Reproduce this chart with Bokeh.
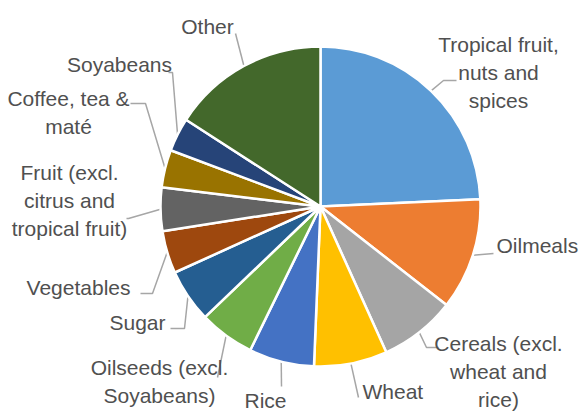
import math
from bokeh.plotting import figure
from bokeh.models import Range1d, ColumnDataSource
from bokeh.core.properties import value
from bokeh.embed import file_html
from bokeh.resources import INLINE

# ---- data (share of total, %) ----
categories = ["Tropical fruit,\nnuts and\nspices", "Oilmeals", "Cereals (excl.\nwheat and\nrice)", "Wheat",
              "Rice", "Oilseeds (excl.\nSoyabeans)", "Sugar", "Vegetables",
              "Fruit (excl.\ncitrus and\ntropical fruit)", "Coffee, tea &\nmaté", "Soyabeans", "Other"]
shares = [24.3, 11.3, 7.7, 7.4, 6.6, 5.6, 5.4, 4.3, 4.4, 3.8, 3.4, 15.9]
colors = ["#5B9BD5", "#ED7D31", "#A5A5A5", "#FFC000", "#4472C4", "#70AD47",
          "#255E91", "#9E480E", "#636363", "#997300", "#264478", "#43682B"]

# ---- layout (page pixel coordinates) ----
W, H = 579, 414
CX, CY, R = 320, 206, 160
label_pos = [(498, 72), (496, 245), (498, 371), (362, 391), (265, 400), (159, 381),
             (165, 322), (130, 287), (69, 200), (68, 112), (119, 64), (207, 26)]
label_align = ["center", "left", "center", "left", "center", "center",
               "right", "right", "center", "center", "center", "center"]
leader_elbows = [[(443, 80), (456, 80)], [(493, 253)], [(426, 347), (438, 347)], [(358, 397)],
                 [(281, 386)], [(217, 377)], [(184, 328), (170, 328)], [(152, 293), (140, 293)],
                 [(128, 218), (126, 218)], [(145, 103), (130, 103)], [(172, 72), (168, 72)], [(235, 33)]]

def ty(y):
    return H - y

total = sum(shares)
starts, ends, mids = [], [], []
acc = 0.0
for s in shares:
    a0 = acc / total
    acc += s
    a1 = acc / total
    starts.append(math.pi / 2 - 2 * math.pi * a1)
    ends.append(math.pi / 2 - 2 * math.pi * a0)
    mids.append(math.pi / 2 - 2 * math.pi * (a0 + a1) / 2)

p = figure(width=W, height=H, output_backend="svg", toolbar_location=None,
           x_range=Range1d(0, W), y_range=Range1d(0, H),
           min_border=0)
p.axis.visible = False
p.grid.visible = False
p.outline_line_color = None
p.background_fill_color = "white"
p.border_fill_color = "white"

# leader lines
xs, ys = [], []
for m, el in zip(mids, leader_elbows):
    sx = CX + R * math.cos(m)
    sy = ty(CY) + R * math.sin(m)
    xs.append([sx] + [e[0] for e in el])
    ys.append([sy] + [ty(e[1]) for e in el])
p.multi_line(xs=xs, ys=ys, line_color="#A6A6A6", line_width=1.5)

src = ColumnDataSource(dict(start=starts, end=ends, color=colors))
p.wedge(x=CX, y=ty(CY), radius=R, radius_units="screen", start_angle="start", end_angle="end",
        fill_color="color", line_color="white", line_width=2.5, source=src)

for txt, (lx, ly), al in zip(categories, label_pos, label_align):
    p.text(x=[lx], y=[ty(ly)], text=[txt], text_align=al, text_baseline="middle",
           text_font=value("Liberation Sans"), text_font_size="21px",
           text_color="#505050", text_line_height=1.22)

open("out.html", "w").write(file_html(p, INLINE))
